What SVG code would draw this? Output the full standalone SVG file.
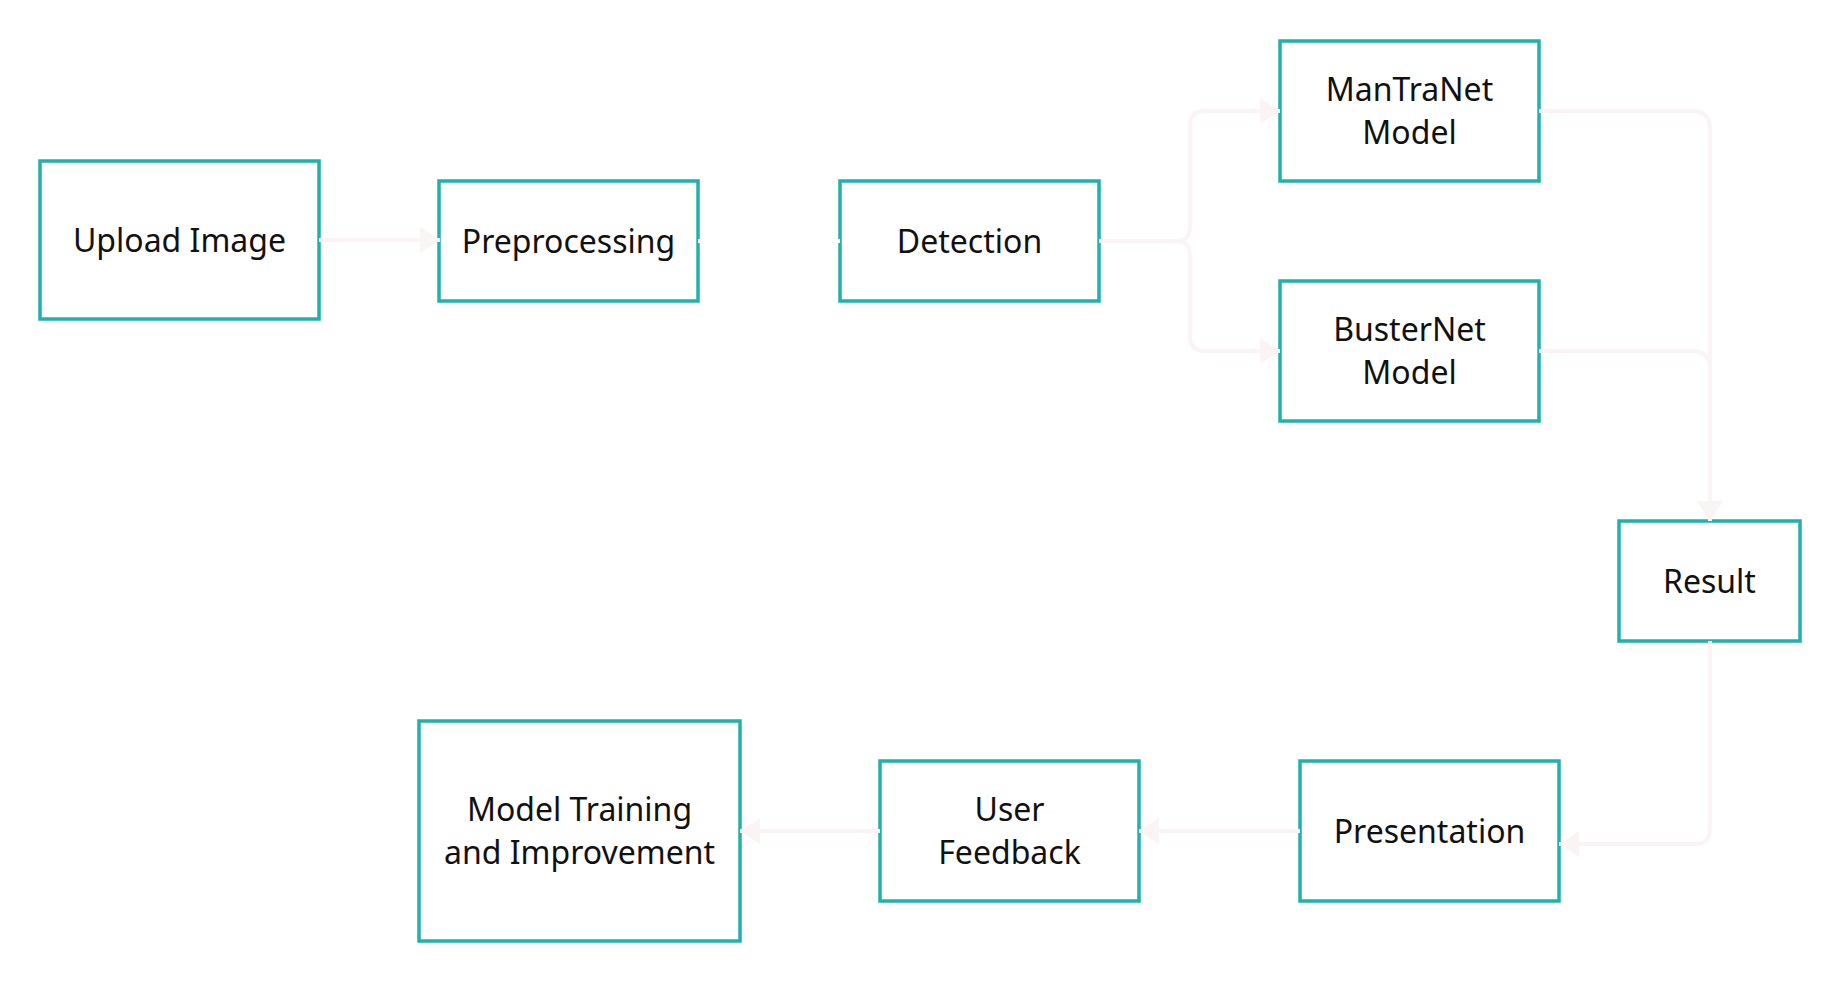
<svg xmlns="http://www.w3.org/2000/svg" width="1841" height="981" viewBox="0 0 1841 981">
<style>
.box{fill:#ffffff;stroke:#20b2aa;stroke-width:3.5}
.lbl{font-family:"Noto Sans","Open Sans","DejaVu Sans",sans-serif;font-size:32px;fill:#111111;text-anchor:middle}
.con{fill:none;stroke:#faf5f4;stroke-width:4}
.conw{fill:none;stroke:#ffffff;stroke-width:4}
</style>
<defs>
<marker id="ah" markerUnits="userSpaceOnUse" markerWidth="20" markerHeight="26" refX="20" refY="13" orient="auto" viewBox="0 0 20 26">
<path d="M0,0 L20,13 L0,26 Z" fill="#faf5f4"/>
</marker>
<marker id="ahw" markerUnits="userSpaceOnUse" markerWidth="20" markerHeight="26" refX="20" refY="13" orient="auto" viewBox="0 0 20 26">
<path d="M0,0 L20,13 L0,26 Z" fill="#ffffff"/>
</marker>
</defs>
<rect width="1841" height="981" fill="#ffffff"/>
<g id="upload-image"><rect class="box" x="40" y="161" width="279" height="158"/><text class="lbl" x="179.5" y="252">Upload Image</text></g>
<g id="preprocessing"><rect class="box" x="439" y="181" width="259" height="120"/><text class="lbl" x="568.5" y="253">Preprocessing</text></g>
<g id="detection"><rect class="box" x="840" y="181" width="259" height="120"/><text class="lbl" x="969.5" y="253">Detection</text></g>
<g id="mantranet"><rect class="box" x="1280" y="41" width="259" height="140"/><text class="lbl" x="1409.5" y="101">ManTraNet</text><text class="lbl" x="1409.5" y="144">Model</text></g>
<g id="busternet"><rect class="box" x="1280" y="281" width="259" height="140"/><text class="lbl" x="1409.5" y="341">BusterNet</text><text class="lbl" x="1409.5" y="384">Model</text></g>
<g id="result"><rect class="box" x="1619" y="521" width="181" height="120"/><text class="lbl" x="1709.5" y="593">Result</text></g>
<g id="presentation"><rect class="box" x="1300" y="761" width="259" height="140"/><text class="lbl" x="1429.5" y="843">Presentation</text></g>
<g id="user-feedback"><rect class="box" x="880" y="761" width="259" height="140"/><text class="lbl" x="1009.5" y="821">User</text><text class="lbl" x="1009.5" y="864">Feedback</text></g>
<g id="model-training"><rect class="box" x="419" y="721" width="321" height="220"/><text class="lbl" x="579.5" y="821">Model Training</text><text class="lbl" x="579.5" y="864">and Improvement</text></g>
<g id="connectors">
<path class="con" d="M319,240 H440" marker-end="url(#ah)"/>
<path class="conw" d="M698,241 H840" marker-end="url(#ahw)"/>
<path class="con" d="M1099,241 H1176 Q1190,241 1190,227 V126 Q1190,111 1205,111 H1280" marker-end="url(#ah)"/>
<path class="con" d="M1099,241 H1176 Q1190,241 1190,255 V336 Q1190,351 1205,351 H1280" marker-end="url(#ah)"/>
<path class="con" d="M1539,111 H1692 Q1710,111 1710,129 V521" marker-end="url(#ah)"/>
<path class="con" d="M1539,351 H1692 Q1710,351 1710,369 V521" marker-end="url(#ah)"/>
<path class="con" d="M1710,641 V829 Q1710,844 1695,844 H1559" marker-end="url(#ah)"/>
<path class="con" d="M1300,831 H1139" marker-end="url(#ah)"/>
<path class="con" d="M880,831 H740" marker-end="url(#ah)"/>
</g>
</svg>
